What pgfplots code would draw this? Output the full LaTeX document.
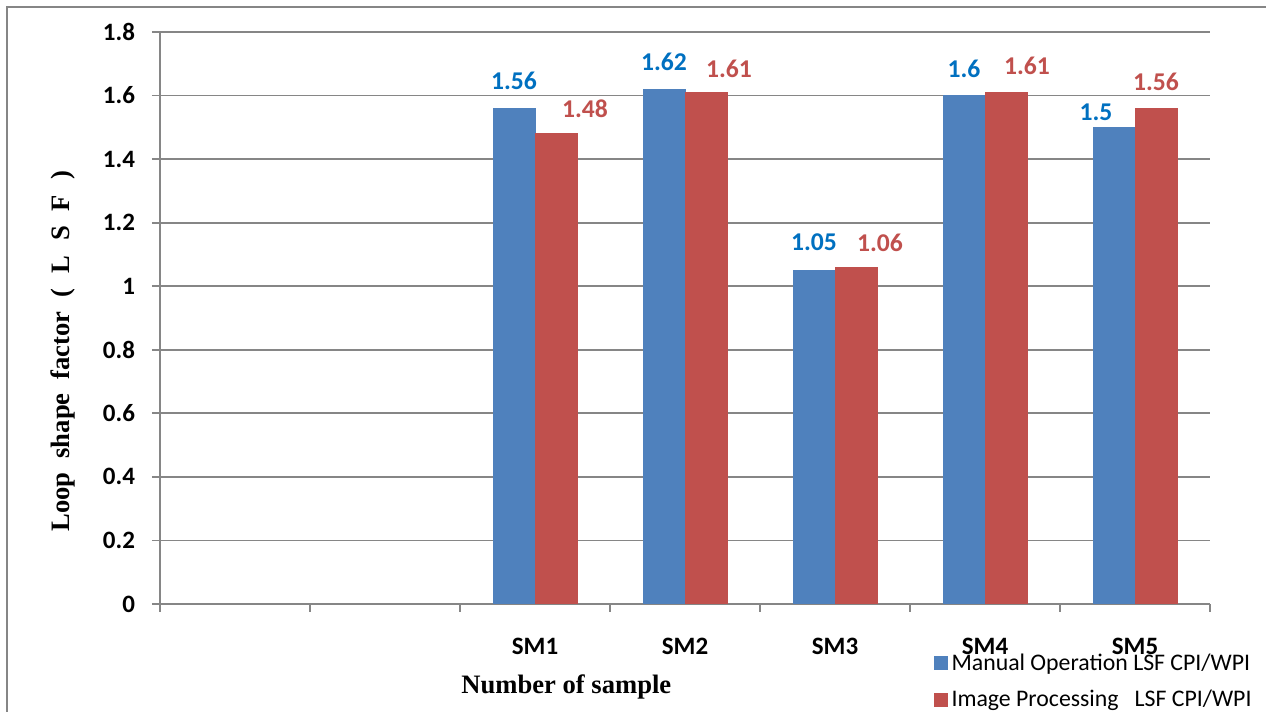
\documentclass[border=0pt]{standalone}
\usepackage{pgfplots}
\pgfplotsset{compat=1.18}
\usepackage{pgfplotstable}
\usepackage{fontspec}
\setmainfont{Carlito}
\newfontfamily\calibri{Carlito}
\newfontfamily\tnr{Liberation Serif}
\definecolor{barblue}{RGB}{79,129,189}
\definecolor{barred}{RGB}{192,80,77}
\definecolor{labblue}{RGB}{0,112,192}
\definecolor{labred}{RGB}{192,80,77}
\definecolor{axgray}{RGB}{134,134,134}

\pgfplotstableread{
x y dx dy lab
2 1.56 0 13.5 1.56
3 1.62 0 13.7 1.62
4 1.05 0 14 1.05
5 1.60 0 13.3 1.6
6 1.50 -9 7.4 1.5
}\manual
\pgfplotstableread{
x y dx dy lab
2 1.48 14.5 12.5 1.48
3 1.61 11.5 11.7 1.61
4 1.06 12 12.3 1.06
5 1.61 10.5 13.5 1.61
6 1.56 0 13 1.56
}\image

\begin{document}
\begin{tikzpicture}
\useasboundingbox (0,0) rectangle (633pt,356pt);
\draw[axgray, line width=1pt] (3.5pt,0) -- (3.5pt,352.5pt) -- (633pt,352.5pt);
\begin{axis}[
  at={(80pt,54pt)}, anchor=south west,
  scale only axis, width=525pt, height=286pt,
  xmin=-0.5, xmax=6.5, ymin=0, ymax=1.8,
  ytick={0,0.2,...,1.8},
  axis x line*=bottom, axis y line*=left,
  axis line style={axgray, line width=0.9pt},
  tick align=outside, major tick length=4pt,
  tick style={axgray, line width=0.9pt},
  ymajorgrids, grid style={axgray, line width=0.9pt},
  xtick={-0.5,0.5,...,6.5}, xticklabels={},
  extra x ticks={2,3,4,5,6},
  extra x tick labels={SM1,SM2,SM3,SM4,SM5},
  extra x tick style={major tick length=0pt, grid=none},
  /pgf/number format/assume math mode=true,
  ticklabel style={font=\calibri\bfseries\fontsize{12.5}{14}\selectfont, text=black},
  yticklabel style={xshift=-5pt},
  xticklabel style={yshift=-13.5pt},
  ylabel={Loop\hspace{7pt}shape\hspace{7pt}factor\hspace{7pt}(\hspace{7.5pt}L\hspace{7.5pt}S\hspace{7.5pt}F\hspace{7.5pt})},
  every axis y label/.style={at={(rel axis cs:-0.0924,0.442)}, rotate=90, anchor=center,
     font=\tnr\bfseries\fontsize{13.3}{15}\selectfont},
  xlabel={Number of sample},
  every axis x label/.style={at={(rel axis cs:0.387,-0.145)}, anchor=center,
     font=\tnr\bfseries\fontsize{13.3}{15}\selectfont},
  ybar=0pt, bar width=21pt,
  legend style={at={(rel axis cs:0.7365,-0.079)}, anchor=north west, draw=none, fill=none,
     font=\calibri\fontsize{11.9}{13}\selectfont, row sep=4.5pt, inner sep=0pt,
     /tikz/every even column/.append style={column sep=4pt}},
  legend cell align=left,
  legend image code/.code={\fill[#1] (0pt,-3.25pt) rectangle (6.5pt,3.25pt);},
  nodes near coords={\pgfplotspointmeta},
  point meta=explicit symbolic,
  visualization depends on={\thisrow{dx} \as \dx},
  visualization depends on={\thisrow{dy} \as \dy},
  nodes near coords style={anchor=center, xshift=\dx pt, yshift=\dy pt,
     font=\calibri\bfseries\fontsize{12.8}{14}\selectfont},
]
\addplot[fill=barblue, draw=barblue, nodes near coords style={text=labblue}]
  table[x=x, y=y, meta=lab] {\manual};
\addplot[fill=barred, draw=barred, nodes near coords style={text=labred}]
  table[x=x, y=y, meta=lab] {\image};
\legend{Manual Operation LSF CPI/WPI, Image Processing\hspace{8pt}LSF CPI/WPI}
\end{axis}
\end{tikzpicture}
\end{document}
